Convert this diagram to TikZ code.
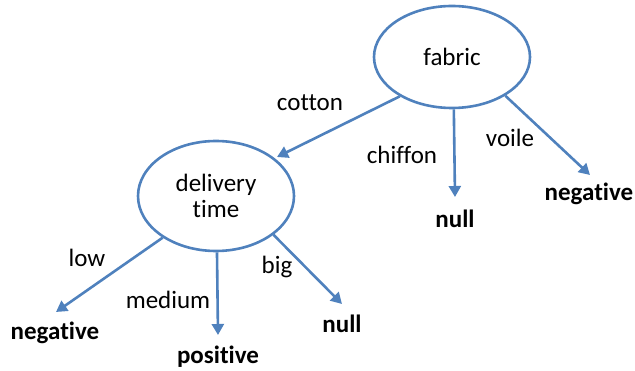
\documentclass[tikz,border=0pt]{standalone}
\usepackage{fontspec}
\setmainfont[Ligatures={NoCommon}]{Carlito}
\usetikzlibrary{arrows.meta,shapes.geometric}
\definecolor{edgeblue}{HTML}{4F81BD}
\begin{document}
\begin{tikzpicture}[x=1pt,y=-1pt,
  tnode/.style={draw=edgeblue,line width=2.6pt,ellipse,inner sep=0pt,font=\fontsize{25}{29}\selectfont,align=center},
  lbl/.style={font=\fontsize{25}{29}\selectfont,inner sep=0pt},
  leaf/.style={font=\fontsize{25}{29}\selectfont\bfseries,inner sep=0pt},
  conn/.style={draw=edgeblue,line width=2.6pt,-{Triangle[length=11pt,width=12pt]}}]
\useasboundingbox (0,0) rectangle (635,371);
\node[tnode,minimum width=156pt,minimum height=102pt] (fabric) at (452,57) {fabric};
\node[tnode,minimum width=156pt,minimum height=110pt] (dt) at (216,196) {delivery\\[-3pt]time};
\coordinate (tc) at (277,157);
\coordinate (tch) at (455,197);
\coordinate (tv) at (590,175);
\coordinate (tl) at (56,312);
\coordinate (tm) at (218,335);
\coordinate (tb) at (342,304);
\draw[conn] (fabric.-143) -- (tc);
\draw[conn] (fabric.-88) -- (tch);
\draw[conn] (fabric.-36) -- (tv);
\draw[conn] (dt.-142) -- (tl);
\draw[conn] (dt.-89) -- (tm);
\draw[conn] (dt.-34) -- (tb);
\node[lbl] (cotton) at (310,103) {cotton};
\node[lbl] (chiffon) at (402,155) {chiffon};
\node[lbl] (voile) at (510,138) {voile};
\node[lbl] (low) at (87,258) {low};
\node[lbl] (medium) at (168,300) {medium};
\node[lbl] (big) at (277,267) {big};
\node[leaf] (null1) at (455,219) {null};
\node[leaf] (neg1) at (589,194) {negative};
\node[leaf] (neg2) at (55,333) {negative};
\node[leaf] (pos) at (218,357) {positive};
\node[leaf] (null2) at (342,324) {null};
\end{tikzpicture}
\end{document}
